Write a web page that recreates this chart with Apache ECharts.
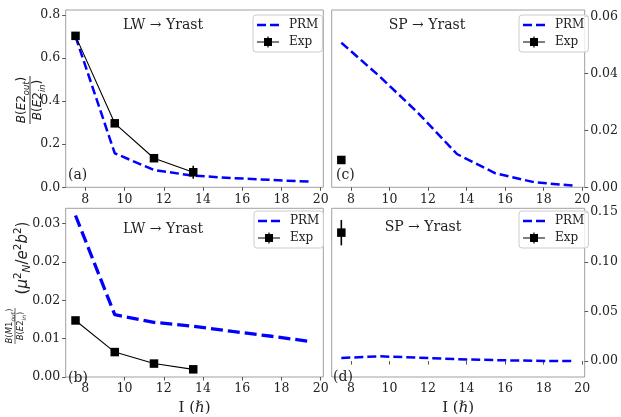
<!DOCTYPE html>
<html>
<head>
<meta charset="utf-8">
<script src="https://cdn.jsdelivr.net/npm/echarts@6/dist/echarts.min.js"></script>
<style>
  html, body { margin: 0; padding: 0; background: #fff; }
  #chart { width: 621px; height: 417px; }
</style>
</head>
<body>
<div id="chart"></div>
<script>
// ---------------- data ----------------
const spinsPRM = [7.5, 9.5, 11.5, 13.5, 15.5, 17.5, 19.5];
const spinsExpLW = [7.5, 9.5, 11.5, 13.5];
const spinsExpSP = [7.5];

// (a) B(E2out)/B(E2in), LW -> Yrast
const prmE2LW = [0.700, 0.158, 0.080, 0.054, 0.043, 0.034, 0.026];
const expE2LW = [0.703, 0.297, 0.135, 0.070];
const errE2LW = [0.015, 0.015, 0.010, 0.030];

// (c) B(E2out)/B(E2in), SP -> Yrast
const prmE2SP = [0.0508, 0.0389, 0.0260, 0.0117, 0.0049, 0.0018, 0.0006];
const expE2SP = [0.0096];
const errE2SP = [0.0008];

// (b) B(M1out)/B(E2in), LW -> Yrast
const prmM1LW = [0.0337, 0.0130, 0.0114, 0.0106, 0.0095, 0.0085, 0.0074];
const expM1LW = [0.0118, 0.0052, 0.0028, 0.0016];
const errM1LW = [0.0006, 0.0005, 0.0004, 0.0004];

// (d) B(M1out)/B(E2in), SP -> Yrast
const prmM1SP = [0.0032, 0.0048, 0.0035, 0.0019, 0.0010, 0.0003, 0.0000];
const expM1SP = [0.1293];
const errM1SP = [0.0128];

// tick labels
const xTicks = [8, 10, 12, 14, 16, 18, 20];
const yTicksA = [0, 0.2, 0.4, 0.6, 0.8];
const yTicksC = [0, 0.02, 0.04, 0.06];
const yTicksB = [0, 0.008, 0.016, 0.024, 0.032];
const yTicksD = [0, 0.05, 0.10, 0.15];

const titles = ['LW \u2192 Yrast', 'SP \u2192 Yrast', 'LW \u2192 Yrast', 'SP \u2192 Yrast'];
const panelLabels = ['(a)', '(c)', '(b)', '(d)'];
const seriesNames = ['PRM', 'Exp'];
const xName = 'I (\u210F)';

// ---------------- chart ----------------
const SERIF = 'DejaVu Serif';
const SANS = 'DejaVu Sans';
const frameColor = '#a0a0a0';
const txt = '#222';

const grids = [
  { left: 65.7, top: 10, width: 257.6, height: 177.3 },
  { left: 331.7, top: 10, width: 257.6, height: 177.3 },
  { left: 65.7, top: 208.3, width: 257.6, height: 177.4 },
  { left: 331.7, top: 208.3, width: 257.6, height: 177.4 }
].map(g => Object.assign({ show: true, borderColor: frameColor, borderWidth: 1, backgroundColor: 'transparent', containLabel: false }, g));

function xAxis(i, withName) {
  return {
    type: 'value', gridIndex: i, min: 7.0, max: 20.13,
    axisLine: { show: false },
    splitLine: { show: false },
    axisTick: { show: true, inside: false, length: 3.5, customValues: xTicks, lineStyle: { color: '#555', width: 1 } },
    axisLabel: { customValues: xTicks, fontFamily: SERIF, fontSize: 12.5, color: txt, margin: 5.5 },
    name: withName ? xName : '',
    nameLocation: 'middle', nameGap: 24,
    nameTextStyle: { fontFamily: SERIF, fontSize: 15, color: txt }
  };
}
function yAxis(i, ymin, ymax, ticks, digits, pos) {
  return {
    type: 'value', gridIndex: i, min: ymin, max: ymax, position: pos,
    axisLine: { show: false },
    splitLine: { show: false },
    axisTick: { show: true, inside: false, length: 3.5, customValues: ticks, lineStyle: { color: '#555', width: 1 } },
    axisLabel: { customValues: ticks, fontFamily: SERIF, fontSize: 12.5, color: txt, margin: 5.5,
      formatter: v => Number(v).toFixed(digits) }
  };
}

const pairs = (xs, ys) => xs.map((x, k) => [x, ys[k]]);
const errTriples = (xs, ys, es) => xs.map((x, k) => [x, ys[k] - es[k], ys[k] + es[k]]);

function errRender(params, api) {
  const x = api.value(0);
  const p1 = api.coord([x, api.value(1)]);
  const p2 = api.coord([x, api.value(2)]);
  return { type: 'line', shape: { x1: p1[0], y1: p1[1], x2: p2[0], y2: p2[1] },
    style: { stroke: '#000', lineWidth: 1.6 } };
}

function panelSeries(i, prm, expX, exp, err, prmWidth, dash) {
  return [
    { name: 'PRM', type: 'line', xAxisIndex: i, yAxisIndex: i, data: pairs(spinsPRM, prm),
      symbol: 'none', showSymbol: false, color: '#0000ff', z: 2,
      lineStyle: { color: '#0000ff', width: prmWidth, type: dash } },
    { type: 'custom', xAxisIndex: i, yAxisIndex: i, data: errTriples(expX, exp, err),
      renderItem: errRender, encode: { x: 0, y: [1, 2] }, z: 3, silent: true },
    { name: 'Exp', type: 'line', xAxisIndex: i, yAxisIndex: i, data: pairs(expX, exp),
      symbol: 'rect', symbolSize: 8.5, color: '#000', z: 4,
      itemStyle: { color: '#000' },
      lineStyle: { color: '#000', width: 1.1 } }
  ];
}

// legend handle glyphs (dashed line; line + square + error bar)
const prmIcon = 'path://M0,0h9v2.6h-9z M13,0h9v2.6h-9z';
const expIcon = 'path://M0,4.9h22v1.2h-22z M7,1.5h8v8h-8z M10.4,0h1.2v11h-1.2z';

const legendPos = [
  { left: 253, top: 15 }, { left: 519, top: 15 },
  { left: 254, top: 211 }, { left: 519, top: 211 }
];
const legends = legendPos.map(p => Object.assign({
  data: [
    { name: seriesNames[0], icon: prmIcon },
    { name: seriesNames[1], icon: expIcon }
  ],
  orient: 'vertical', selectedMode: false,
  itemWidth: 22, itemHeight: 11, itemGap: 5,
  padding: [4, 4, 4, 4],
  borderColor: '#cccccc', borderWidth: 1, borderRadius: 3,
  backgroundColor: 'rgba(255,255,255,0.8)',
  textStyle: { fontFamily: SERIF, fontSize: 12, color: txt, padding: [0, 0, 0, 5] }
}, p));

// titles and panel letters
const titlePos = [[163, 25], [427, 25], [163, 229], [423, 227]];
const letterPos = [[68, 175], [336, 175], [68, 378], [333, 377]];
const graphics = [];
titles.forEach((t, k) => graphics.push({ type: 'text', x: titlePos[k][0], y: titlePos[k][1],
  style: { text: t, fontFamily: SERIF, fontSize: 14, fill: txt, align: 'center', verticalAlign: 'middle' } }));
panelLabels.forEach((t, k) => graphics.push({ type: 'text', x: letterPos[k][0], y: letterPos[k][1],
  style: { text: t, fontFamily: SERIF, fontSize: 14, fill: txt, align: 'left', verticalAlign: 'middle' } }));

const mathRich = (size) => ({
  m: { fontFamily: SANS, fontStyle: 'italic', fontSize: size, lineHeight: size + 5, fill: txt },
  r: { fontFamily: SANS, fontSize: size, lineHeight: size + 5, fill: txt },
  sub: { fontFamily: SANS, fontStyle: 'italic', fontSize: size * 0.7, lineHeight: size * 0.7 + 1, verticalAlign: 'bottom', fill: txt },
  sup: { fontFamily: SANS, fontSize: size * 0.7, lineHeight: size * 0.7 + 1, verticalAlign: 'top', fill: txt }
});

// y label (a): B(E2_out) / B(E2_in)
graphics.push({
  type: 'group', x: 30, y: 100, rotation: Math.PI / 2,
  children: [
    { type: 'text', x: 0, y: -8, style: { text: '{m|B}{r|(}{m|E}{r|2}{sub|out}{r|)}', rich: mathRich(12), align: 'center', verticalAlign: 'middle' } },
    { type: 'line', shape: { x1: -24, y1: 0, x2: 24, y2: 0 }, style: { stroke: txt, lineWidth: 0.9 } },
    { type: 'text', x: 0, y: 8, style: { text: '{m|B}{r|(}{m|E}{r|2}{sub|in}{r|)}', rich: mathRich(12), align: 'center', verticalAlign: 'middle' } }
  ]
});
// y label (b): B(M1_out)/B(E2_in) (mu_N^2 / e^2 b^2)
graphics.push({
  type: 'group', x: 15, y: 326, rotation: Math.PI / 2,
  children: [
    { type: 'text', x: 0, y: -5.5, style: { text: '{m|B}{r|(}{m|M}{r|1}{sub|out}{r|)}', rich: mathRich(8.5), align: 'center', verticalAlign: 'middle' } },
    { type: 'line', shape: { x1: -18, y1: 0, x2: 18, y2: 0 }, style: { stroke: txt, lineWidth: 0.7 } },
    { type: 'text', x: 0, y: 5.5, style: { text: '{m|B}{r|(}{m|E}{r|2}{sub|in}{r|)}', rich: mathRich(8.5), align: 'center', verticalAlign: 'middle' } }
  ]
});
graphics.push({
  type: 'text', x: 23, y: 258, rotation: Math.PI / 2,
  style: { text: '{r|(}{m|\u03BC}{sup|2}{sub|N}{r|/}{m|e}{sup|2}{m|b}{sup|2}{r|)}', rich: mathRich(15), align: 'center', verticalAlign: 'middle' }
});

const option = {
  animation: false,
  backgroundColor: '#ffffff',
  grid: grids,
  xAxis: [xAxis(0, false), xAxis(1, false), xAxis(2, true), xAxis(3, true)],
  yAxis: [
    yAxis(0, 0, 0.823, yTicksA, 1, 'left'),
    yAxis(1, 0, 0.0623, yTicksC, 2, 'right'),
    yAxis(2, 0, 0.0352, yTicksB, 2, 'left'),
    yAxis(3, -0.016, 0.1538, yTicksD, 2, 'right')
  ],
  legend: legends,
  series: [].concat(
    panelSeries(0, prmE2LW, spinsExpLW, expE2LW, errE2LW, 2.5, [9, 4]),
    panelSeries(1, prmE2SP, spinsExpSP, expE2SP, errE2SP, 2.5, [9, 4]),
    panelSeries(2, prmM1LW, spinsExpLW, expM1LW, errM1LW, 3.3, [12, 5]),
    panelSeries(3, prmM1SP, spinsExpSP, expM1SP, errM1SP, 2.5, [9, 4])
  ),
  graphic: graphics
};

const chart = echarts.init(document.getElementById('chart'), null, { renderer: 'canvas' });
chart.setOption(option);
</script>
</body>
</html>
